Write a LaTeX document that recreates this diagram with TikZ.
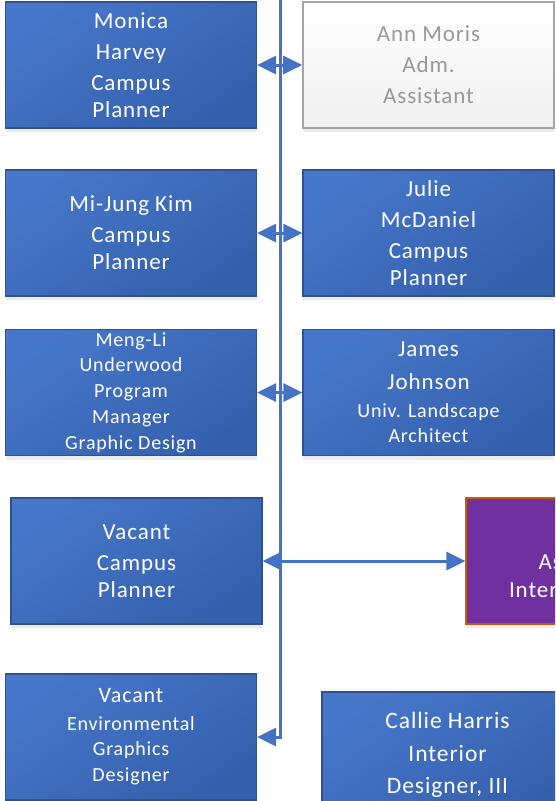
\documentclass[tikz,border=0pt]{standalone}
\usepackage{fontspec}
\setmainfont{Carlito}[LetterSpace=4]
\usetikzlibrary{arrows.meta,shadows}

\definecolor{linkblue}{HTML}{4472C4}
\definecolor{boxlight}{HTML}{4777CA}
\definecolor{boxdark}{HTML}{3460AC}
\definecolor{boxedge}{HTML}{2F528F}
\definecolor{admedge}{HTML}{A5A5A5}
\definecolor{admtext}{HTML}{999999}
\definecolor{vacpurple}{HTML}{7030A0}
\definecolor{vacedge}{HTML}{C55A11}

\begin{document}
\begin{tikzpicture}[
  x=1pt, y=-1pt,
  >={Triangle[length=19pt,width=18pt]},
  link/.style={draw=linkblue, line width=3pt},
  box/.style={rectangle, line width=1.2pt,
    drop shadow={shadow xshift=0pt, shadow yshift=-4pt, opacity=0.15},
    minimum width=251pt, minimum height=126pt, inner sep=0pt,
    text=white, align=center, font=\fontsize{23}{27}\selectfont},
  staff/.style={box, draw=boxedge,
    top color=boxlight, bottom color=boxdark, shading angle=35},
  small/.style={font=\fontsize{20}{25.8}\selectfont},
  admin/.style={box, draw=admedge, line width=1.6pt,
    top color=white, bottom color=gray!12, text=admtext},
  vacancy/.style={box, draw=vacedge, fill=vacpurple}
]

\useasboundingbox (0,0) rectangle (555,801);
\clip (0,0) rectangle (555,801);

% left column
\node[staff] (monica) at (131,65) {Monica\\[4pt]Harvey\\[4pt]Campus\\Planner};
\node[staff] (mijung) at (131,233) {Mi-Jung Kim\\[4pt]Campus\\Planner};
\node[staff, small] (mengli) at (131,392.5)
  {Meng-Li\\Underwood\\Program\\Manager\\Graphic Design};
\node[staff] (vaccp) at (136.5,561) {Vacant\\[4pt]Campus\\Planner};
\node[staff, small] (vacenv) at (131,737)
  {{\fontsize{22}{25.8}\selectfont Vacant}\\[1.5pt]Environmental\\Graphics\\Designer};

% right column
\node[admin] (ann) at (428.5,65) {Ann Moris\\[4pt]Adm.\\[4pt]Assistant};
\node[staff] (julie) at (428.5,233) {Julie\\[4pt]McDaniel\\[4pt]Campus\\Planner};
\node[staff] (james) at (428.5,392.5)
  {James\\[6pt]Johnson\\[1pt]{\fontsize{20}{25}\selectfont Univ. Landscape}\\[-2pt]%
   {\fontsize{20}{25}\selectfont Architect}};
\node[vacancy] (asst) at (591.5,561) {};
\node[text=white, align=center, font=\fontsize{23}{28}\selectfont]
  (asstlabel) at (584,578) {Assistant\\Interior Design};
\node[staff, font=\fontsize{23.5}{32.5}\selectfont] (callie) at (447.5,755)
  {Callie Harris\\Interior\\Designer, III};

% connectors
\coordinate (spine) at (280,-5);
\draw[link, ->] (spine) |- (vacenv.east);
\draw[link, <->] (monica.east) -- (ann.west);
\draw[link, <->] (mijung.east) -- (julie.west);
\draw[link, <->] (mengli.east) -- (james.west);
\draw[link, <->] (vaccp.east) -- (asst.west);

\end{tikzpicture}
\end{document}
